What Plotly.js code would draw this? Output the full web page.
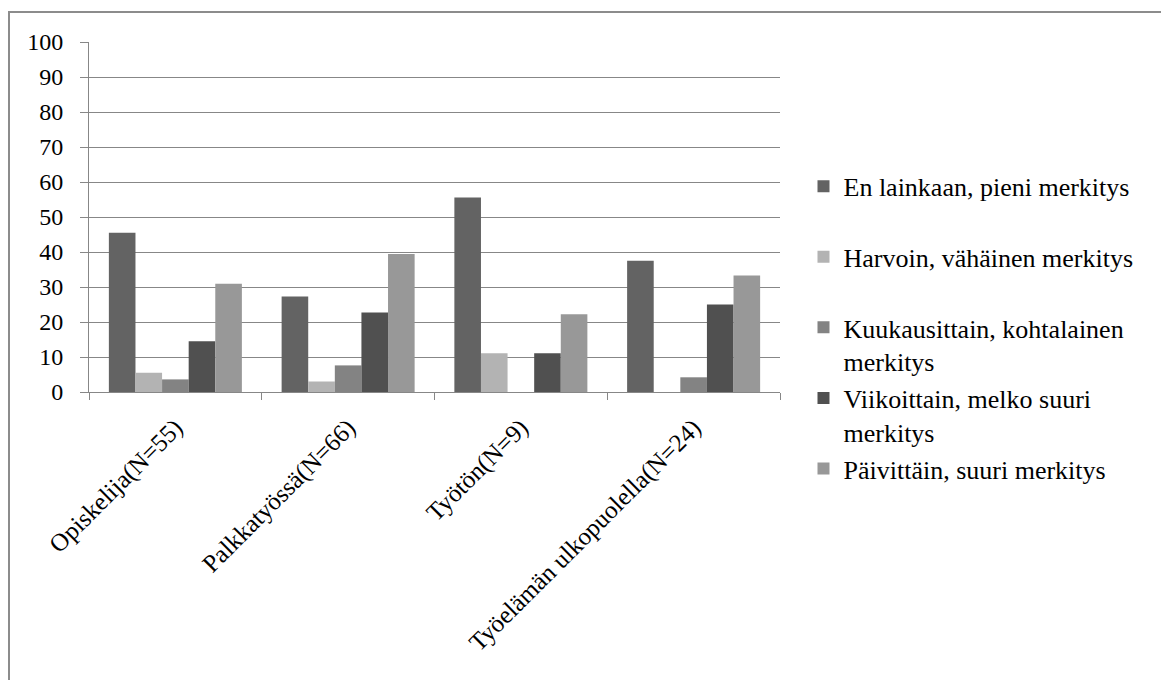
<!DOCTYPE html>
<html>
<head>
<meta charset="utf-8">
<script src="https://cdn.plot.ly/plotly-3.0.1.min.js"></script>
<style>
  html, body { margin: 0; padding: 0; background: #fff; }
  #wrap { position: relative; width: 1161px; height: 680px; overflow: hidden; }
  #chart { position: absolute; left: 0; top: 0; width: 1161px; height: 680px; }
  #frame { position: absolute; left: 8px; top: 11px; width: 1200px; height: 800px;
           border-top: 2px solid #8c8c8c; border-left: 2px solid #8c8c8c; pointer-events: none; }
</style>
</head>
<body>
<div id="wrap">
  <div id="chart"></div>
  <div id="frame"></div>
</div>
<script>
// Categories (x axis)
var categories = ["Opiskelija(N=55)", "Palkkatyössä(N=66)", "Työtön(N=9)", "Työelämän ulkopuolella(N=24)"];

// Series names (legend); single-line names get an empty second line so every entry has the same height
var seriesNames = [
  "En lainkaan, pieni merkitys<br>\u00a0",
  "Harvoin, vähäinen merkitys<br>\u00a0",
  "Kuukausittain, kohtalainen<br>merkitys",
  "Viikoittain, melko suuri<br>merkitys",
  "Päivittäin, suuri merkitys<br>\u00a0"
];

// Series values (percent)
var enLainkaan    = [45.5, 27.3, 55.6, 37.5];
var harvoin       = [5.5, 3.0, 11.1, 0];
var kuukausittain = [3.6, 7.6, 0, 4.2];
var viikoittain   = [14.5, 22.7, 11.1, 25.0];
var paivittain    = [30.9, 39.4, 22.2, 33.3];

// Y tick values
var yTicks = [0, 10, 20, 30, 40, 50, 60, 70, 80, 90, 100];

var seriesValues = [enLainkaan, harvoin, kuukausittain, viikoittain, paivittain];
var seriesColors = ["#636363", "#b3b3b3", "#838383", "#505050", "#989898"];

var font = "Liberation Serif";

var traces = seriesValues.map(function (vals, i) {
  return {
    type: "bar",
    name: seriesNames[i],
    x: categories,
    y: vals,
    legendgroup: "g" + i,
    marker: { color: seriesColors[i], line: { width: 0 } },
    hoverinfo: "x+y"
  };
});

var layout = {
  width: 1161,
  height: 680,
  paper_bgcolor: "#ffffff",
  plot_bgcolor: "#ffffff",
  margin: { l: 89, r: 381, t: 42, b: 288, pad: 0 },
  barmode: "group",
  bargap: 0.23,
  bargroupgap: 0,
  showlegend: true,
  font: { family: font, size: 25, color: "#000000" },
  xaxis: {
    type: "category",
    tickangle: -45,
    ticks: "outside",
    tickson: "boundaries",
    ticklen: 7,
    tickcolor: "#878787",
    tickwidth: 1,
    ticklabelstandoff: 10,
    showline: true,
    linecolor: "#878787",
    linewidth: 1,
    showgrid: false,
    zeroline: false,
    tickfont: { family: font, size: 25, color: "#000" },
    automargin: false,
    fixedrange: true
  },
  yaxis: {
    range: [0, 100],
    tickvals: yTicks,
    ticktext: yTicks.map(String),
    ticks: "outside",
    ticklen: 8,
    tickcolor: "#878787",
    tickwidth: 1,
    ticklabelstandoff: 12,
    showline: true,
    linecolor: "#878787",
    linewidth: 1,
    showgrid: true,
    gridcolor: "#878787",
    gridwidth: 1,
    zeroline: false,
    tickfont: { family: font, size: 24, color: "#000" },
    automargin: false,
    fixedrange: true
  },
  legend: {
    x: 1.034,
    xanchor: "left",
    y: 0.655,
    yanchor: "top",
    valign: "top",
    traceorder: "grouped",
    tracegroupgap: 0,
    maxheight: 640,
    bgcolor: "rgba(0,0,0,0)",
    borderwidth: 0,
    font: { family: font, size: 26, color: "#000" }
  }
};

Plotly.newPlot("chart", traces, layout, { displayModeBar: false, responsive: false });
</script>
</body>
</html>
